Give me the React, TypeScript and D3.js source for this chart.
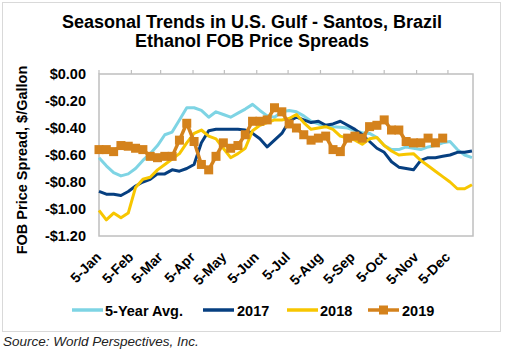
import React from 'react';
import * as d3 from 'd3';

const weekCount = 52;
const weekDates = d3.range(weekCount).map((i) => new Date(2019, 0, 5 + 7 * i));

const avg5Year = [
  -0.62, -0.68, -0.73, -0.755, -0.74, -0.70, -0.64, -0.59, -0.53, -0.45,
  -0.43, -0.34, -0.25, -0.25, -0.27, -0.32, -0.28, -0.30, -0.32, -0.29,
  -0.26, -0.225, -0.27, -0.31, -0.32, -0.28, -0.27, -0.28, -0.31, -0.35,
  -0.37, -0.38, -0.39, -0.395, -0.40, -0.42, -0.435, -0.44, -0.47, -0.53,
  -0.56, -0.56, -0.54, -0.55, -0.56, -0.54, -0.53, -0.51, -0.50, -0.56,
  -0.60, -0.62,
];

const values2017 = [
  -0.87, -0.89, -0.89, -0.90, -0.87, -0.83, -0.80, -0.78, -0.74, -0.74,
  -0.71, -0.72, -0.70, -0.67, -0.51, -0.42, -0.41, -0.41, -0.41, -0.41,
  -0.415, -0.44, -0.48, -0.54, -0.49, -0.44, -0.35, -0.32, -0.34, -0.36,
  -0.35, -0.38, -0.37, -0.35, -0.38, -0.41, -0.45, -0.50, -0.55, -0.58,
  -0.65, -0.69, -0.70, -0.71, -0.64, -0.62, -0.62, -0.61, -0.60, -0.58,
  -0.58, -0.57,
];

const values2018 = [
  -1.01, -1.08, -1.03, -1.065, -1.03, -0.84, -0.78, -0.765, -0.71, -0.67,
  -0.63, -0.59, -0.51, -0.44, -0.415, -0.46, -0.48, -0.55, -0.62, -0.59,
  -0.55, -0.42, -0.38, -0.36, -0.34, -0.34, -0.33, -0.30, -0.36, -0.41,
  -0.40, -0.39, -0.41, -0.46, -0.475, -0.49, -0.52, -0.48, -0.47, -0.53,
  -0.57, -0.60, -0.595, -0.59, -0.64, -0.68, -0.72, -0.76, -0.80, -0.85,
  -0.85, -0.82,
];

const values2019 = [
  -0.56, -0.56, -0.575, -0.53, -0.535, -0.55, -0.56, -0.61, -0.62, -0.61,
  -0.61, -0.49, -0.365, -0.50, -0.67, -0.71, -0.61, -0.51, -0.55, -0.53,
  -0.45, -0.35, -0.35, -0.34, -0.25, -0.28, -0.37, -0.40, -0.45, -0.49,
  -0.475, -0.46, -0.56, -0.575, -0.475, -0.46, -0.475, -0.39, -0.38, -0.34,
  -0.415, -0.415, -0.50, -0.51, -0.51, -0.475, -0.51, -0.475,
];

const yTickValues = [0, -0.2, -0.4, -0.6, -0.8, -1.0, -1.2];
const monthTickDates = d3.range(12).map((m) => new Date(2019, m, 5));
const monthLabels = [
  '5-Jan', '5-Feb', '5-Mar', '5-Apr', '5-May', '5-Jun',
  '5-Jul', '5-Aug', '5-Sep', '5-Oct', '5-Nov', '5-Dec',
];

const seriesNames = ['5-Year Avg.', '2017', '2018', '2019'];
const seriesColors = ['#7ED4E4', '#063F80', '#F7C600', '#D4821C'];

const FONT = '"Liberation Sans", Arial, Helvetica, sans-serif';

export default function App() {
  const W = 506;
  const H = 351;
  const plot = { left: 99, right: 473, top: 74, bottom: 236 };

  const x = d3
    .scaleTime()
    .domain([new Date(2019, 0, 5), new Date(2019, 11, 29)])
    .range([plot.left, plot.right]);
  const y = d3.scaleLinear().domain([-1.2, 0]).range([plot.bottom, plot.top]);

  const line = d3
    .line<[Date, number]>()
    .x((d) => x(d[0]))
    .y((d) => y(d[1]));

  const allSeries = [avg5Year, values2017, values2018, values2019];
  const paths = allSeries.map((vals) =>
    line(vals.map((v, i) => [weekDates[i], v] as [Date, number]))
  );
  const fmt = (v: number) =>
    (v < 0 ? '-' : '') + '$' + Math.abs(v).toFixed(2);

  const legendItems = [
    { lx: 72, tx: 105 },
    { lx: 203, tx: 237 },
    { lx: 287, tx: 320 },
    { lx: 368, tx: 402 },
  ];

  return (
    <svg
      width={W}
      height={H}
      style={{ position: 'absolute', left: 0, top: 0, background: '#fff' }}
      fontFamily={FONT}
    >
      <rect x={0} y={0} width={W} height={H} fill="#fff" />
      <rect x={2.5} y={2.5} width={498} height={329} fill="#fff" stroke="#D9D9D9" strokeWidth={1} />

      {/* Title */}
      <text x={252} y={28} textAnchor="middle" fontSize={18} fontWeight="bold" fill="#000">
        Seasonal Trends in U.S. Gulf - Santos, Brazil
      </text>
      <text x={252} y={47} textAnchor="middle" fontSize={18} fontWeight="bold" fill="#000">
        Ethanol FOB Price Spreads
      </text>

      {/* Y axis title */}
      <text
        transform={`translate(27, ${(plot.top + plot.bottom) / 2 + 5}) rotate(-90)`}
        textAnchor="middle"
        fontSize={14.5}
        fontWeight="bold"
        fill="#000"
      >
        FOB Price Spread, $/Gallon
      </text>

      {/* Y tick labels */}
      {yTickValues.map((v) => (
        <text
          key={v}
          x={86}
          y={y(v)}
          dy="0.36em"
          textAnchor="end"
          fontSize={14.5}
          fontWeight="bold"
          fill="#000"
        >
          {fmt(v)}
        </text>
      ))}

      {/* Plot frame */}
      <rect
        x={plot.left}
        y={plot.top}
        width={plot.right - plot.left}
        height={plot.bottom - plot.top}
        fill="none"
        stroke="#BFBFBF"
        strokeWidth={1.5}
      />
      {/* Top axis tick marks */}
      {monthTickDates.map((d, i) => (
        <line
          key={i}
          x1={x(d)}
          x2={x(d)}
          y1={plot.top}
          y2={plot.top - 4}
          stroke="#BFBFBF"
          strokeWidth={1.2}
        />
      ))}

      {/* X labels */}
      {monthTickDates.map((d, i) => (
        <text
          key={i}
          transform={`translate(${x(d) + 3}, 258) rotate(-45)`}
          textAnchor="end"
          fontSize={14}
          fontWeight="bold"
          fill="#000"
        >
          {monthLabels[i]}
        </text>
      ))}

      {/* Series lines */}
      {paths.map((p, i) => (
        <path
          key={i}
          d={p || ''}
          fill="none"
          stroke={seriesColors[i]}
          strokeWidth={i === 3 ? 3.5 : 3}
          strokeLinejoin="round"
        />
      ))}
      {values2019.map((v, i) => (
        <rect
          key={i}
          x={x(weekDates[i]) - 4.5}
          y={y(v) - 4.5}
          width={9}
          height={9}
          fill={seriesColors[3]}
        />
      ))}

      {/* Legend */}
      {legendItems.map((it, i) => (
        <g key={i}>
          <line
            x1={it.lx}
            x2={it.lx + 31}
            y1={310}
            y2={310}
            stroke={seriesColors[i]}
            strokeWidth={3.5}
          />
          {i === 3 && (
            <rect x={it.lx + 11} y={305.5} width={9} height={9} fill={seriesColors[3]} />
          )}
          <text x={it.tx} y={315.5} fontSize={14.5} fontWeight="bold" fill="#000">
            {seriesNames[i]}
          </text>
        </g>
      ))}

      {/* Source */}
      <text x={3} y={346} fontSize={13.5} fontStyle="italic" fill="#222">
        Source: World Perspectives, Inc.
      </text>
    </svg>
  );
}
